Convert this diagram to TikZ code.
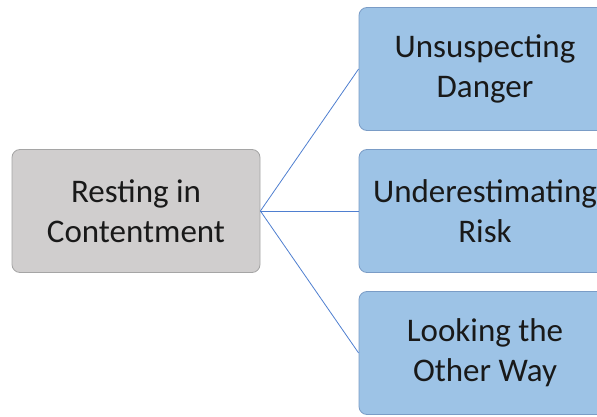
\documentclass[tikz,border=0pt]{standalone}
\usepackage{fontspec}
\setmainfont{Carlito}
\usepackage{xcolor}
\usetikzlibrary{positioning}
\definecolor{restgray}{HTML}{D0CECE}
\definecolor{restedge}{HTML}{A5A5A5}
\definecolor{riskblue}{HTML}{9DC3E6}
\definecolor{riskedge}{HTML}{7A9CC6}
\definecolor{linkblue}{HTML}{4F7FD0}

\begin{document}
\begin{tikzpicture}[x=1pt,y=-1pt,
  box/.style={rounded corners=8pt,minimum height=123pt,align=center,
    font=\fontsize{33}{40}\selectfont,text=black!90,line width=0.8pt},
  restbox/.style={box,fill=restgray,draw=restedge,minimum width=248pt},
  riskbox/.style={box,fill=riskblue,draw=riskedge,minimum width=252pt},
  link/.style={draw=linkblue,line width=0.8pt}]
\useasboundingbox (0,0) rectangle (597,417);
\node[restbox] (rest) at (136,211) {Resting in\\Contentment};
\node[riskbox] (danger) at (485,69) {Unsuspecting\\Danger};
\node[riskbox] (risk) at (485,211) {Underestimating\\Risk};
\node[riskbox] (away) at (485,353) {Looking the\\Other Way};
\draw[link] (rest.east) -- (danger.west);
\draw[link] (rest.east) -- (risk.west);
\draw[link] (rest.east) -- (away.west);
\end{tikzpicture}
\end{document}
